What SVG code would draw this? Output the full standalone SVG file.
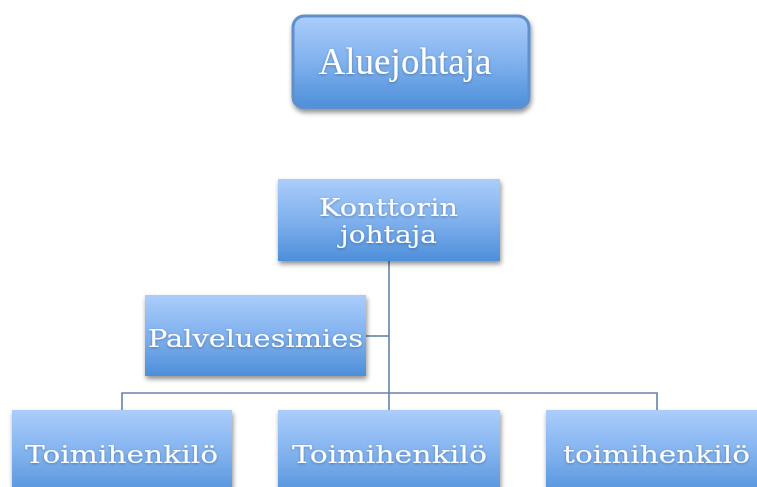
<svg xmlns="http://www.w3.org/2000/svg" width="757" height="487" viewBox="0 0 757 487">
<defs>
<linearGradient id="g" x1="0" y1="0" x2="0" y2="1">
<stop offset="0" stop-color="#abcdfb"/>
<stop offset="0.5" stop-color="#80b1ee"/>
<stop offset="1" stop-color="#4d8fd9"/>
</linearGradient>
<filter id="sh" x="-10%" y="-10%" width="125%" height="130%">
<feGaussianBlur in="SourceAlpha" stdDeviation="2.5"/>
<feOffset dx="1" dy="3" result="b"/>
<feComponentTransfer><feFuncA type="linear" slope="0.45"/></feComponentTransfer>
<feMerge><feMergeNode/><feMergeNode in="SourceGraphic"/></feMerge>
</filter>
<filter id="ts" x="-5%" y="-20%" width="110%" height="140%">
<feGaussianBlur in="SourceAlpha" stdDeviation="1.5"/>
<feOffset dx="0" dy="1"/>
<feComponentTransfer><feFuncA type="linear" slope="0.3"/></feComponentTransfer>
<feMerge><feMergeNode/><feMergeNode in="SourceGraphic"/></feMerge>
</filter>
</defs>
<style>
.box{fill:url(#g);filter:url(#sh)}
.t{font-family:"DejaVu Serif","Liberation Serif",serif;fill:#fff;text-anchor:middle;filter:url(#ts)}
.a{font-family:"Liberation Serif","Times New Roman",serif;fill:#fff;text-anchor:middle;filter:url(#ts)}
.c{stroke:#6583aa;stroke-width:1.6;fill:none}
</style>
<g id="connectors">
<path class="c" d="M389 261V410"/>
<path class="c" d="M366 336H389"/>
<path class="c" d="M122 410V393H657V410"/>
</g>
<g id="aluejohtaja">
<rect x="293" y="16" width="236" height="92" rx="11" fill="url(#g)" stroke="#5e90cc" stroke-width="3" filter="url(#sh)"/>
<text class="a" x="405" y="74" font-size="38" textLength="173" lengthAdjust="spacingAndGlyphs">Aluejohtaja</text>
</g>
<g id="konttorin">
<rect class="box" x="278" y="179" width="222" height="82"/>
<text class="t" x="388.5" y="216" font-size="24" textLength="139" lengthAdjust="spacingAndGlyphs">Konttorin</text>
<text class="t" x="388.5" y="243" font-size="24" textLength="97" lengthAdjust="spacingAndGlyphs">johtaja</text>
</g>
<g id="palveluesimies">
<rect class="box" x="145" y="295" width="221" height="81"/>
<text class="t" x="255.5" y="347" font-size="25" textLength="215" lengthAdjust="spacingAndGlyphs">Palveluesimies</text>
</g>
<g id="toimihenkilo1">
<rect class="box" x="12" y="410" width="220" height="90"/>
<text class="t" x="121.5" y="463" font-size="25" textLength="193" lengthAdjust="spacingAndGlyphs">Toimihenkilö</text>
</g>
<g id="toimihenkilo2">
<rect class="box" x="278" y="410" width="222" height="90"/>
<text class="t" x="389.5" y="463" font-size="25" textLength="195" lengthAdjust="spacingAndGlyphs">Toimihenkilö</text>
</g>
<g id="toimihenkilo3">
<rect class="box" x="546" y="410" width="222" height="90"/>
<text class="t" x="656.5" y="463" font-size="25" textLength="187" lengthAdjust="spacingAndGlyphs">toimihenkilö</text>
</g>
</svg>
